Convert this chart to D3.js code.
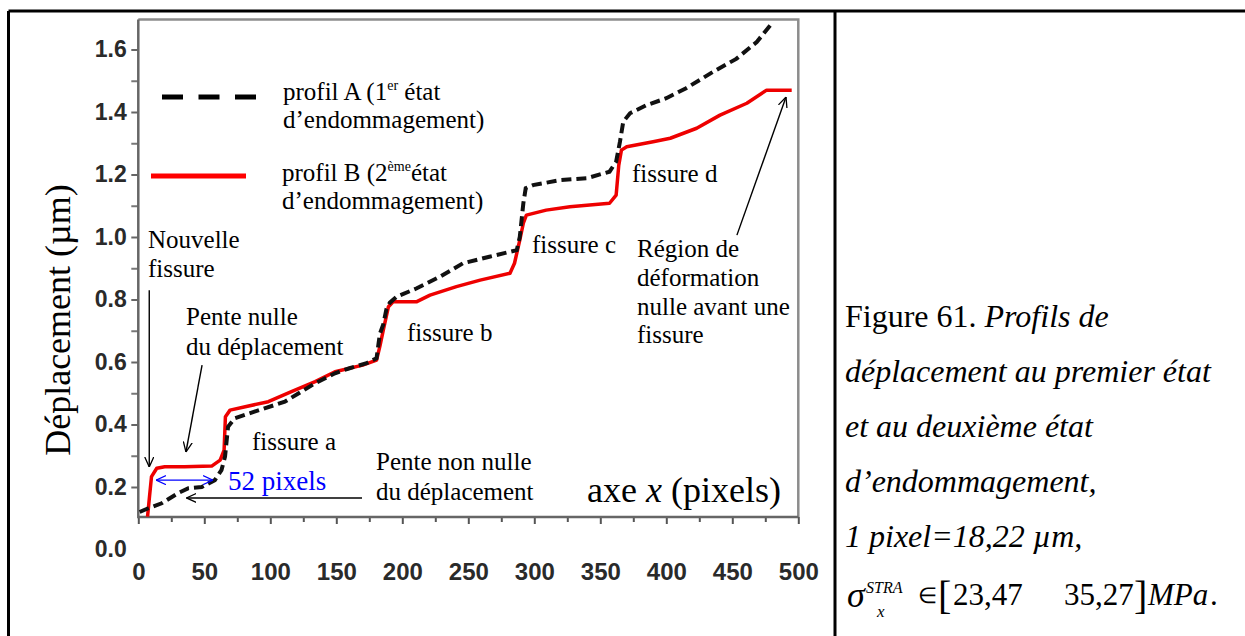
<!DOCTYPE html>
<html>
<head>
<meta charset="utf-8">
<script src="https://cdn.jsdelivr.net/npm/d3@7"></script>
<style>
  html, body { margin: 0; padding: 0; background: #fff; }
  svg { display: block; }
  .serif { font-family: "Liberation Serif", "Times New Roman", serif; fill: #000; }
  .tick text { font-family: "Liberation Sans", Arial, sans-serif; font-weight: bold; fill: #2a2a2a; }
</style>
</head>
<body>
<svg id="chart" width="1245" height="636"></svg>
<script>
// ---------- DATA ----------
const xTickValues = [0, 50, 100, 150, 200, 250, 300, 350, 400, 450, 500];
const xMinorTicks = [25, 75, 125, 175, 225, 275, 325, 375, 425, 475];
const yTickValues = [0.0, 0.2, 0.4, 0.6, 0.8, 1.0, 1.2, 1.4, 1.6];
const yMinorTicks = [0.3, 0.5, 0.7, 0.9, 1.1, 1.3, 1.5];

// profil A (1er état d'endommagement) — dashed black
const profilA_x = [1, 7.6, 17.7, 30, 38, 48, 58, 63, 65.7, 68, 73, 88, 111, 134, 149, 160, 173, 180.5, 183, 185.6,
  188, 190.6, 195.7, 211, 228.6, 246, 266, 286.7, 289, 291.7, 293.5, 299, 319.5, 339.7, 357, 362, 364.9, 367.4, 372.5, 385,
  400, 415, 435.6, 453, 468.5, 481];
const profilA_y = [0.12, 0.132, 0.148, 0.18, 0.196, 0.2, 0.222, 0.254, 0.297, 0.393, 0.42, 0.441, 0.473, 0.532, 0.564, 0.58, 0.596, 0.612, 0.69, 0.72,
  0.77, 0.79, 0.809, 0.836, 0.873, 0.916, 0.937, 0.958, 1.0, 1.108, 1.156, 1.166, 1.182, 1.188, 1.209, 1.241, 1.305, 1.369, 1.396, 1.422,
  1.444, 1.476, 1.529, 1.57, 1.624, 1.689];

// profil B (2ème état d'endommagement) — solid red
const profilB_x = [7, 8.5, 10, 14, 20, 35, 55.6, 62, 65, 66, 69.5, 81, 98.5, 116, 134, 149, 170, 180.5, 183, 185.6,
  189.5, 193, 211, 221, 241, 259, 281.6, 285, 289, 291.7, 294, 309, 327, 357, 362, 364, 366, 370, 390, 403,
  423, 440.7, 461, 476, 495];
const profilB_y = [0.105, 0.17, 0.233, 0.26, 0.265, 0.265, 0.267, 0.286, 0.318, 0.425, 0.446, 0.457, 0.473, 0.505, 0.537, 0.569, 0.59, 0.606, 0.65, 0.702,
  0.777, 0.793, 0.793, 0.814, 0.841, 0.862, 0.884, 0.916, 0.99, 1.044, 1.07, 1.086, 1.097, 1.108, 1.134, 1.23, 1.278, 1.289, 1.305, 1.316,
  1.348, 1.39, 1.428, 1.47, 1.47];

const seriesNames = ["profil A", "profil B"];

// ---------- LAYOUT ----------
const svg = d3.select("#chart");
const x = d3.scaleLinear().domain([0, 500]).range([138.3, 798.3]);
const y = d3.scaleLinear().domain([0, 1.6]).range([549.5, 49.5]);
const yBottom = 0.104, yTop = 1.696;   // visible plot frame in data units

// outer table borders
svg.append("line").attr("x1", 8.5).attr("x2", 1245).attr("y1", 11).attr("y2", 11).attr("stroke", "#000").attr("stroke-width", 3);
svg.append("line").attr("x1", 8.5).attr("x2", 8.5).attr("y1", 11).attr("y2", 636).attr("stroke", "#000").attr("stroke-width", 3);
svg.append("line").attr("x1", 835).attr("x2", 835).attr("y1", 11).attr("y2", 636).attr("stroke", "#000").attr("stroke-width", 3);

// plot frame (top & right)
const frameCol = "#8c8c8c";
svg.append("path")
  .attr("d", `M${x(0)},${y(yTop)} H${x(500)} V${y(yBottom)}`)
  .attr("fill", "none").attr("stroke", frameCol).attr("stroke-width", 2.5);

// axes
const xAxis = svg.append("g").attr("transform", `translate(0,${y(yBottom)})`)
  .call(d3.axisBottom(x).tickValues(xTickValues).tickFormat(d3.format("d")).tickSize(7).tickPadding(39));
xAxis.selectAll("text").style("font-size", "24px");
xAxis.select(".domain").remove();
xAxis.selectAll(".tick line").attr("stroke", "#555").attr("stroke-width", 2);
svg.append("g").attr("transform", `translate(0,${y(yBottom)})`)
  .call(d3.axisBottom(x).tickValues(xMinorTicks).tickFormat("").tickSize(5))
  .call(g => g.select(".domain").remove())
  .selectAll(".tick line").attr("stroke", "#555").attr("stroke-width", 2);

const yAxis = svg.append("g").attr("transform", `translate(${x(0)},0)`)
  .call(d3.axisLeft(y).tickValues(yTickValues).tickFormat(d3.format(".1f")).tickSize(7).tickPadding(4.5));
yAxis.selectAll("text").style("font-size", "23px");
yAxis.select(".domain").remove();
yAxis.selectAll(".tick line").attr("stroke", "#666").attr("stroke-width", 2)
  .filter(d => d < yBottom).remove();
svg.append("g").attr("transform", `translate(${x(0)},0)`)
  .call(d3.axisLeft(y).tickValues(yMinorTicks).tickFormat("").tickSize(7))
  .call(g => g.select(".domain").remove())
  .selectAll(".tick line").attr("stroke", "#777").attr("stroke-width", 2);

// axis lines (left & bottom)
svg.append("path")
  .attr("d", `M${x(0)},${y(yTop)} V${y(yBottom)} H${x(500)}`)
  .attr("fill", "none").attr("stroke", "#666").attr("stroke-width", 2.5);

// ---------- CURVES ----------
svg.append("clipPath").attr("id", "plotclip").append("rect")
  .attr("x", x(0)).attr("y", y(yTop)).attr("width", x(500) - x(0)).attr("height", y(yBottom) - y(yTop));

const line = d3.line().x(d => x(d[0])).y(d => y(d[1]));
const dataA = profilA_x.map((v, i) => [v, profilA_y[i]]);
const dataB = profilB_x.map((v, i) => [v, profilB_y[i]]);

const curves = svg.append("g").attr("clip-path", "url(#plotclip)");
curves.append("path").datum(dataB).attr("d", line)
  .attr("fill", "none").attr("stroke", "#ee0000").attr("stroke-width", 3.5).attr("stroke-linejoin", "round");
curves.append("path").datum(dataA).attr("d", line)
  .attr("fill", "none").attr("stroke", "#111").attr("stroke-width", 4).attr("stroke-dasharray", "10,5");

// ---------- LEGEND ----------
svg.append("line").attr("x1", 162).attr("x2", 256).attr("y1", 97).attr("y2", 97)
  .attr("stroke", "#000").attr("stroke-width", 5).attr("stroke-dasharray", "21,15.5");
svg.append("line").attr("x1", 151).attr("x2", 246).attr("y1", 176).attr("y2", 176)
  .attr("stroke", "#ff0000").attr("stroke-width", 5);

const fs = 25;
function txt(tx, ty, s, size, extra) {
  const t = svg.append("text").attr("class", "serif").attr("x", tx).attr("y", ty)
    .style("font-size", (size || fs) + "px").text(s);
  if (extra) extra(t);
  return t;
}
const la = svg.append("text").attr("class", "serif").attr("x", 283).attr("y", 100).style("font-size", fs + "px");
la.append("tspan").text("profil A (1");
la.append("tspan").attr("dy", -10).style("font-size", "14px").text("er");
la.append("tspan").attr("dy", 10).text(" état");
txt(283, 128, "d’endommagement)");
const lb = svg.append("text").attr("class", "serif").attr("x", 282).attr("y", 181).style("font-size", fs + "px");
lb.append("tspan").text("profil B (2");
lb.append("tspan").attr("dy", -10).style("font-size", "14px").text("ème");
lb.append("tspan").attr("dy", 10).text("état");
txt(282, 209, "d’endommagement)");

// ---------- ANNOTATIONS ----------
const defs = svg.append("defs");
function marker(id, col) {
  defs.append("marker").attr("id", id).attr("viewBox", "0 0 10 10").attr("refX", 10).attr("refY", 5)
    .attr("markerWidth", 10).attr("markerHeight", 10).attr("markerUnits", "userSpaceOnUse").attr("orient", "auto-start-reverse")
    .append("path").attr("d", "M0,0.5 L10,5 L0,9.5").attr("fill", "none").attr("stroke", col).attr("stroke-width", 1.3);
}
marker("arrK", "#000");
marker("arrB", "#0000ff");
function arrow(x1, y1, x2, y2, col, id, both) {
  const l = svg.append("line").attr("x1", x(x1)).attr("y1", y(y1)).attr("x2", x(x2)).attr("y2", y(y2))
    .attr("stroke", col).attr("stroke-width", 1.4).attr("marker-end", `url(#${id})`);
  if (both) l.attr("marker-start", `url(#${id})`);
}
arrow(8.3, 0.83, 8.3, 0.264, "#000", "arrK");
arrow(48.3, 0.59, 36.1, 0.312, "#000", "arrK");
arrow(169.5, 0.165, 36.5, 0.165, "#000", "arrK");
arrow(453.5, 1.006, 490.7, 1.448, "#000", "arrK");
arrow(13.4, 0.222, 56.6, 0.222, "#0000ff", "arrB", true);

txt(148, 248, "Nouvelle"); txt(148, 277, "fissure");
txt(186, 325, "Pente nulle"); txt(186, 355, "du déplacement");
txt(252, 450, "fissure a");
txt(228, 490, "52 pixels", 27, t => t.style("fill", "#0000ff"));
txt(376, 470, "Pente non nulle"); txt(376, 500, "du déplacement");
txt(407, 341, "fissure b");
txt(532, 253, "fissure c");
txt(632, 182, "fissure d");
txt(637, 257, "Région de"); txt(637, 286, "déformation"); txt(637, 315, "nulle avant une"); txt(637, 343, "fissure");

// axis titles
const ax = svg.append("text").attr("class", "serif").attr("x", 587).attr("y", 502).style("font-size", "36px");
ax.append("tspan").text("axe ");
ax.append("tspan").style("font-style", "italic").text("x");
ax.append("tspan").text(" (pixels)");
svg.append("text").attr("class", "serif").attr("transform", "translate(70,320) rotate(-90)")
  .attr("text-anchor", "middle").style("font-size", "36px").text("Déplacement (µm)");

// ---------- CAPTION ----------
const cs = 32;
const c1 = svg.append("text").attr("class", "serif").attr("x", 845).attr("y", 327).style("font-size", cs + "px");
c1.append("tspan").text("Figure 61. ");
c1.append("tspan").style("font-style", "italic").text("Profils de");
const capLines = ["déplacement au premier état", "et au deuxième état", "d’endommagement,", "1 pixel=18,22 µm,"];
capLines.forEach((s, i) => txt(845, 382 + i * 55, s, cs, t => t.style("font-style", "italic")));
txt(847, 607, "σ", 36, t => t.style("font-style", "italic"));
txt(866, 593, "STRA", 16, t => t.style("font-style", "italic"));
txt(877, 617, "x", 17, t => t.style("font-style", "italic"));
txt(918, 603, "∈", 22);
txt(938, 609, "[", 40);
txt(953, 605, "23,47", 31);
txt(1064, 605, "35,27", 31);
txt(1134, 609, "]", 40);
txt(1148, 605, "MPa", 31, t => t.style("font-style", "italic"));
txt(1210, 605, ".", 31);
</script>
</body>
</html>
